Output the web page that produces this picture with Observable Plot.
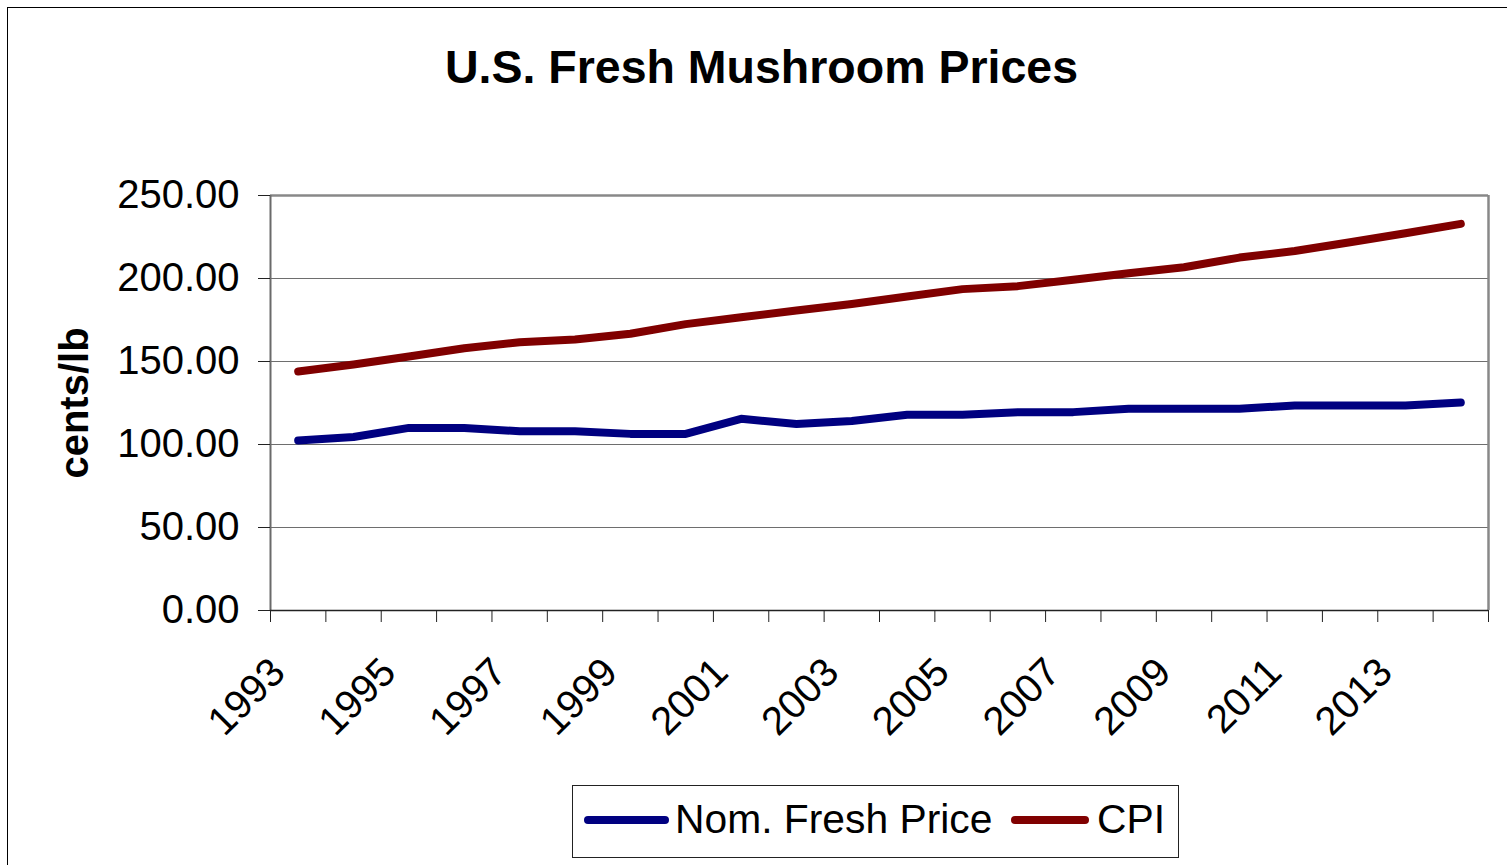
<!DOCTYPE html>
<html>
<head>
<meta charset="utf-8">
<script src="https://cdn.jsdelivr.net/npm/d3@7"></script>
<script src="https://cdn.jsdelivr.net/npm/@observablehq/plot@0.6"></script>
<style>
  html, body { margin: 0; padding: 0; background: #fff; overflow: hidden; }
  body { font-family: "Liberation Sans", Arial, sans-serif; color: #000; }
  #page { position: relative; width: 1507px; height: 865px; overflow: hidden; background: #fff; }
  #frame { position: absolute; left: 7px; top: 7px; width: 1700px; height: 1000px;
           border-left: 1px solid #000; border-top: 1px solid #000; }
  #title { position: absolute; left: 0; width: 1523px; top: 44px; text-align: center;
           font-weight: bold; font-size: 46.5px; line-height: 46px; white-space: nowrap; }
  #chart { position: absolute; left: 0; top: 120px; }
  #legend { position: absolute; left: 572px; top: 785px; width: 605px; height: 71px;
            border: 1px solid #222; background: #fff; }
  .sw { position: absolute; height: 8px; border-radius: 4px; top: 30px; }
  .lt { position: absolute; top: 13px; font-size: 40.8px; line-height: 40px; white-space: nowrap; }
</style>
</head>
<body>
<div id="page">
  <div id="frame"></div>
  <div id="title"></div>
  <div id="chart"></div>
  <div id="legend"></div>
</div>
<script>
// ---- data ----
const years = [1993, 1994, 1995, 1996, 1997, 1998, 1999, 2000, 2001, 2002, 2003,
               2004, 2005, 2006, 2007, 2008, 2009, 2010, 2011, 2012, 2013, 2014];
const nominalPrice = [102.4, 104.5, 110.0, 110.0, 108.0, 108.0, 106.4, 106.4, 115.5, 112.4, 114.2,
                      117.9, 117.9, 119.5, 119.5, 121.5, 121.5, 121.5, 123.5, 123.5, 123.5, 125.3];
const cpi = [144.0, 148.2, 153.0, 158.0, 161.6, 163.2, 166.7, 172.5, 176.7, 180.7, 184.6,
             189.2, 193.6, 195.4, 199.2, 203.2, 206.8, 212.6, 216.6, 221.8, 227.3, 232.9];
const seriesNames = ["Nom. Fresh Price", "CPI"];
const seriesColors = ["#000080", "#800000"];
const xTickLabels = [1993, 1995, 1997, 1999, 2001, 2003, 2005, 2007, 2009, 2011, 2013];
const yTicks = [0, 50, 100, 150, 200, 250];
const titleText = "U.S. Fresh Mushroom Prices";
const yLabel = "cents/lb";

// ---- derived tables ----
const rows = [];
years.forEach((yr, i) => {
  rows.push({year: yr, value: nominalPrice[i], series: seriesNames[0]});
});
years.forEach((yr, i) => {
  rows.push({year: yr, value: cpi[i], series: seriesNames[1]});
});
const xMin = years[0] - 0.5, xMax = years[years.length - 1] + 0.5;
const boundaries = years.map(y => y - 0.5).concat([xMax]);
const yMax = yTicks[yTicks.length - 1];
const gridVals = yTicks.filter(v => v > 0 && v < yMax);

document.getElementById("title").textContent = titleText;

const font = "Liberation Sans, Arial, sans-serif";
const chart = Plot.plot({
  width: 1507,
  height: 660,
  marginTop: 75,
  marginBottom: 170,
  marginLeft: 270,
  marginRight: 19,
  style: {fontFamily: font, fontSize: "40px", color: "#000", background: "transparent", overflow: "visible"},
  x: {type: "linear", domain: [xMin, xMax]},
  y: {domain: [0, yMax]},
  color: {domain: seriesNames, range: seriesColors},
  marks: [
    Plot.ruleY(gridVals, {stroke: "#6e6e6e", strokeWidth: 1.2}),
    Plot.ruleY([yMax], {stroke: "#888888", strokeWidth: 2.5}),
    Plot.ruleX([xMax], {y1: 0, y2: yMax, stroke: "#888888", strokeWidth: 2.5}),
    Plot.ruleX([xMin], {y1: 0, y2: yMax, stroke: "#6a6a6a", strokeWidth: 2}),
    Plot.ruleY([0], {stroke: "#222", strokeWidth: 1.5}),
    Plot.axisY({ticks: yTicks, tickFormat: d3.format(".2f"), tickSize: 12, tickPadding: 19,
                fontSize: 40, label: null, stroke: "#222"}),
    Plot.axisX({ticks: boundaries, tickFormat: () => "", tickSize: 12, label: null, stroke: "#222"}),
    Plot.axisX({ticks: xTickLabels, tickFormat: d => String(d), tickSize: 0, tickPadding: 55,
                tickRotate: -45, fontSize: 40, dx: -20, label: null}),
    Plot.text([yLabel], {frameAnchor: "left", textAnchor: "middle", dx: -195, rotate: -90,
                         fontWeight: "bold", fontSize: 40, fill: "#000"}),
    Plot.line(rows, {x: "year", y: "value", z: "series", stroke: "series", strokeWidth: 8,
                     strokeLinecap: "round", strokeLinejoin: "round"})
  ]
});
document.getElementById("chart").appendChild(chart);

// ---- legend ----
const legend = document.getElementById("legend");
const swLeft = [11, 438];
const swWidth = [85, 78];
const txLeft = [102, 524];
seriesNames.forEach((name, i) => {
  const sw = document.createElement("div");
  sw.className = "sw";
  sw.style.left = swLeft[i] + "px";
  sw.style.width = swWidth[i] + "px";
  sw.style.background = seriesColors[i];
  legend.appendChild(sw);
  const tx = document.createElement("div");
  tx.className = "lt";
  tx.style.left = txLeft[i] + "px";
  tx.textContent = name;
  legend.appendChild(tx);
});
</script>
</body>
</html>
